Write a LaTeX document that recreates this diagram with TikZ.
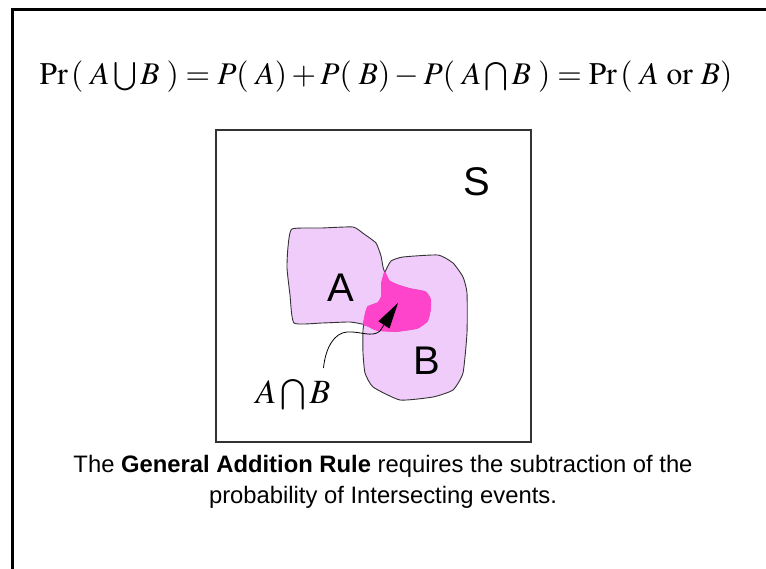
\documentclass[tikz,border=0pt]{standalone}
\usepackage{amsmath}
\usepackage{mathptmx}
\usepackage[no-math]{fontspec}
\setmainfont{Liberation Serif}
\setsansfont{Liberation Sans}
\usetikzlibrary{arrows.meta}
\definecolor{evtfill}{HTML}{F0CCFA}
\definecolor{overlap}{HTML}{FF44CC}
\definecolor{evtline}{HTML}{333333}
\tikzset{
  frameline/.style={line width=3pt, draw=black},
  sample/.style={draw=evtline, line width=1.2pt, inner sep=0pt,
                 minimum width=315pt, minimum height=312pt},
  evt/.style   ={draw=evtline, line width=0.9pt},
  % magenta pen that hides the outlines inside the overlap
  hide/.style  ={draw=overlap, line width=1.6pt},
  biglab/.style={font=\sffamily\fontsize{40}{40}\selectfont, inner sep=0pt},
  mathlab/.style={font=\fontsize{34}{36}\selectfont, inner sep=0pt},
  pointer/.style={draw=black, line width=0.8pt,
                 -{Triangle[length=26pt,width=13pt]}},
}
\newcommand{\gp}{\mskip4mu}
\def\evtA{plot[smooth cycle, tension=0.3] coordinates {
  (292,229) (322,228) (353,227) (364,234) (376,243) (381,256) (383,267)
  (385,273) (389,281) (397,285) (410,289) (425,292) (430,299) (430,310)
  (427,321) (417,328) (397,331) (377,330) (366,325) (350,322) (322,323)
  (294,323) (290,295) (287,268) (288,247)}}
\def\evtB{plot[smooth cycle, tension=0.3] coordinates {
  (385,272) (391,261) (403,257) (438,255) (453,263) (463,277) (467,293)
  (467,333) (463,373) (453,390) (433,397) (400,400) (373,387) (365,373)
  (363,353) (363,330) (365,317) (368,307) (378,303) (382,296) (382,283)}}

\begin{document}
\begin{tikzpicture}[x=1pt,y=-1pt]
\useasboundingbox (0,0) rectangle (766,569);
\draw[frameline] (12,569) |- (766,10);

\node[font=\fontsize{31.5}{34}\selectfont, inner sep=0pt] (eqn) at (386,77)
  {$\mathrm{Pr}\,(\gp A\bigcup B\gp)=P(\gp A)+P(\gp B)-P(\gp A\bigcap B\gp)
    =\mathrm{Pr}\,(\gp A\ \mathrm{or}\ B)$};

\node[sample] (space) at (373.5,286) {};
\node[biglab] (lblS) at (477,182) {S};

% the two events, then their overlap
\fill[evtfill] \evtA;
\fill[evtfill] \evtB;
\draw[evt] \evtA;
\draw[evt] \evtB;
\begin{scope}
  \clip \evtA;
  \fill[overlap] \evtB;
  \path[hide] \evtB;
\end{scope}
\begin{scope}
  \clip \evtB;
  \path[hide] \evtA;
\end{scope}

\node[biglab] (lblA) at (341,288) {A};
\node[biglab] (lblB) at (427,361) {B};
\node[mathlab, anchor=base] (capAB) at (293,403) {$A\bigcap B$};
\coordinate (tip) at (398,303);
\draw[pointer] ([xshift=-7pt,yshift=11pt]capAB.north east)
  .. controls +(2,-20) and (334,333) .. (347,332)
  .. controls (360,331) and (372,338) .. (380,331) -- (tip);

\node[font=\sffamily\fontsize{23.8}{31.5}\selectfont, align=center, inner sep=0pt]
  (rule) at (383,482)
  {The \textbf{General Addition Rule} requires the subtraction of the\\
   probability of Intersecting events.};
\end{tikzpicture}
\end{document}
